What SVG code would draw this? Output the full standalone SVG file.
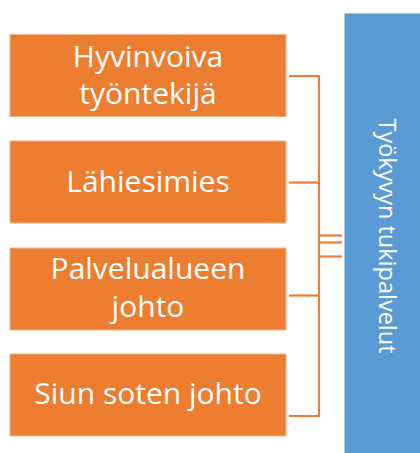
<svg xmlns="http://www.w3.org/2000/svg" width="420" height="453" viewBox="0 0 420 453">
  <style>
    .box { fill: #ED7D31; stroke: #F6B48A; stroke-width: 1; }
    .lbl { fill: #FFFFFF; font-family: "Open Sans", "Noto Sans", sans-serif; font-size: 30px; text-anchor: middle; }
    .side { fill: #5B9BD5; stroke: #A9C8E8; stroke-width: 1; }
    .side-lbl { fill: #FFFFFF; font-family: "Open Sans", "Noto Sans", sans-serif; font-size: 23.5px; text-anchor: middle; }
    .link { fill: none; stroke: #ED7D31; stroke-width: 2.2; }
  </style>

  <rect width="420" height="453" fill="#FFFFFF"/>

  <!-- support services column -->
  <g id="node-tukipalvelut">
    <rect class="side" x="344.5" y="13.5" width="80" height="445"/>
    <text class="side-lbl" transform="translate(379,236) rotate(90)" x="0" y="0">Työkyvyn tukipalvelut</text>
  </g>

  <!-- levels -->
  <g id="node-tyontekija">
    <rect class="box" x="10" y="34.5" width="276" height="82"/>
    <text class="lbl" x="148" y="66.5">Hyvinvoiva</text>
    <text class="lbl" x="148" y="104">työntekijä</text>
  </g>
  <g id="node-lahiesimies">
    <rect class="box" x="10" y="141" width="276" height="82"/>
    <text class="lbl" x="148" y="191.5">Lähiesimies</text>
  </g>
  <g id="node-palvelualue">
    <rect class="box" x="10" y="248" width="276" height="82"/>
    <text class="lbl" x="148" y="279">Palvelualueen</text>
    <text class="lbl" x="148" y="316.5">johto</text>
  </g>
  <g id="node-siunsote">
    <rect class="box" x="10" y="354" width="276" height="82"/>
    <text class="lbl" x="148" y="404">Siun soten johto</text>
  </g>

  <!-- bracket connectors -->
  <g id="connectors">
    <path class="link" d="M289,76 H319 V416 H289"/>
    <path class="link" d="M289,182.5 H319"/>
    <path class="link" d="M289,295.5 H319"/>
    <path class="link" d="M319,235.5 H342"/>
    <path class="link" d="M319,242.5 H342"/>
    <path class="link" d="M319,256.5 H342"/>
  </g>
</svg>
